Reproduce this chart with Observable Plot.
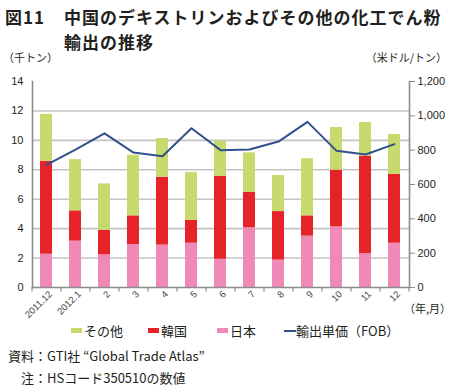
<!DOCTYPE html>
<html><head><meta charset="utf-8">
<script src="https://cdn.jsdelivr.net/npm/d3@7"></script>
<script src="https://cdn.jsdelivr.net/npm/@observablehq/plot@0.6"></script>
<style>
body{margin:0;background:#fff;font-family:"Liberation Sans","Noto Sans CJK JP",sans-serif;color:#231f20;}
#wrap{position:relative;width:451px;height:388px;overflow:hidden;background:#fff;}
.abs{position:absolute;white-space:nowrap;line-height:1;}
.title{font-family:"Noto Sans CJK JP",sans-serif;font-weight:bold;font-size:17px;letter-spacing:1px;line-height:25px;}
.unit{font-family:"Noto Sans CJK JP",sans-serif;font-size:11px;}
.leg{font-family:"Noto Sans CJK JP",sans-serif;font-size:13px;display:flex;align-items:center;}
.sw{display:inline-block;width:11px;height:5px;margin-right:2px;}
.cap{font-family:"Noto Sans CJK JP",sans-serif;font-size:13px;}
#chart{position:absolute;left:0;top:70px;}
</style></head><body>
<div id="wrap">
  <div class="abs title" style="left:5px;top:4px">図11</div>
  <div class="abs title" style="left:64px;top:4px">中国のデキストリンおよびその他の化工でん粉</div>
  <div class="abs title" style="left:64px;top:29px">輸出の推移</div>
  <div class="abs unit" style="left:3px;top:52px">（千トン）</div>
  <div class="abs unit" style="right:4px;top:52px">（米ドル/トン）</div>
  <div id="chart"></div>
  <div class="abs unit" style="left:404px;top:303px">（年,月）</div>
  <div id="legend"></div>
  <div class="abs cap" style="left:8px;top:349px">資料：GTI社 “Global Trade Atlas”</div>
  <div class="abs cap" style="left:21px;top:371px">注：HSコード350510の数値</div>
</div>
<script>
const categories = ["2011.12","2012.1","2","3","4","5","6","7","8","9","10","11","12"];
const japan = [2.26,3.15,2.22,2.92,2.88,3.01,1.92,4.06,1.86,3.49,4.12,2.29,3.01];
const korea = [6.32,2.06,1.67,1.95,4.61,1.56,5.64,2.40,3.30,1.38,3.85,6.64,4.67];
const other = [3.19,3.48,3.15,4.12,2.63,3.24,2.40,2.69,2.45,3.88,2.90,2.28,2.72];
const price = [714,803,898,786,765,928,800,804,850,965,796,775,835];
const leftTicks = [0,2,4,6,8,10,12,14];
const rightTicks = [0,200,400,600,800,1000,1200];
const seriesNames = ["その他","韓国","日本"];
const lineName = "輸出単価（FOB）";
const colors = {"その他":"#c6da6e","韓国":"#e52329","日本":"#ef89b6"};
const lineColor = "#33508a";

const leftMax = 14, rightMax = 1200;
const toLeft = v => v * leftMax / rightMax;

const rows = [];
categories.forEach((c,i) => {
  rows.push({cat:c, series:"日本", value:japan[i], order:0});
  rows.push({cat:c, series:"韓国", value:korea[i], order:1});
  rows.push({cat:c, series:"その他", value:other[i], order:2});
});
const lineRows = categories.map((c,i)=>({cat:c, p:toLeft(price[i])}));

const W = 451, H = 250;
const mL = 32, mR = 42;
const step = (W - mL - mR) / categories.length;

const plot = Plot.plot({
  width: W, height: H,
  marginLeft: mL, marginRight: mR, marginTop: 11, marginBottom: 33,
  style: {fontFamily: '"Liberation Sans","Noto Sans CJK JP",sans-serif', fontSize: "11px", color: "#231f20", background: "transparent"},
  x: {type: "band", domain: categories, paddingInner: 0.58, paddingOuter: 0.29, label: null},
  y: {domain: [0, leftMax], label: null},
  color: {domain: seriesNames, range: seriesNames.map(s=>colors[s])},
  marks: [
    Plot.ruleY(leftTicks.filter(t=>t>0 && t<leftMax), {stroke: "#c4c4c4", strokeWidth: 1.6}),
    Plot.barY(rows, Plot.stackY({x: "cat", y: "value", fill: "series", order: "order"})),
    Plot.line(lineRows, {x: "cat", y: "p", stroke: lineColor, strokeWidth: 2}),
    Plot.ruleY([0], {stroke: "#8c8c8c", strokeWidth: 1.6}),
    Plot.ruleX(categories, {x: d=>d, y1: 0, y2: -0.3, dx: -step/2, stroke: "#8c8c8c", strokeWidth: 1.2}),
    Plot.ruleX([categories[categories.length-1]], {x: d=>d, y1: 0, y2: -0.3, dx: step/2, stroke: "#8c8c8c", strokeWidth: 1.2}),
    Plot.frame({anchor: "left", stroke: "#8c8c8c", strokeWidth: 1.6}),
    Plot.frame({anchor: "right", stroke: "#8c8c8c", strokeWidth: 1.6}),
    Plot.axisY(leftTicks, {anchor: "left", tickSize: 0, tickPadding: 9, fontSize: 11}),
    Plot.axisY(rightTicks.map(toLeft), {anchor: "right", tickSize: 5, tickPadding: 3, stroke: "#8c8c8c", fontSize: 11,
      tickFormat: d => d3.format(",")(Math.round(d * rightMax / leftMax))}),
    Plot.axisX({tickRotate: -45, tickSize: 0, tickPadding: 5, fontSize: 9.5, fill: "#444", dx: 4})
  ]
});
document.getElementById("chart").appendChild(plot);

// legend
const legend = document.getElementById("legend");
const legItems = [
  {name:"その他", x:71, type:"sw"},
  {name:"韓国", x:148, type:"sw"},
  {name:"日本", x:217, type:"sw"},
  {name:lineName, x:284, type:"line"}
];
legItems.forEach(it=>{
  const d = document.createElement("div");
  d.className = "abs leg";
  d.style.left = it.x + "px";
  d.style.top = "324px";
  const s = document.createElement("span");
  s.className = "sw";
  if (it.type === "sw") { s.style.background = colors[it.name]; }
  else { s.style.height = "2px"; s.style.background = lineColor; s.style.width = "12px"; s.style.marginRight = "0px"; }
  d.appendChild(s);
  const t = document.createElement("span");
  t.textContent = it.name;
  d.appendChild(t);
  legend.appendChild(d);
});
</script>
</body></html>
